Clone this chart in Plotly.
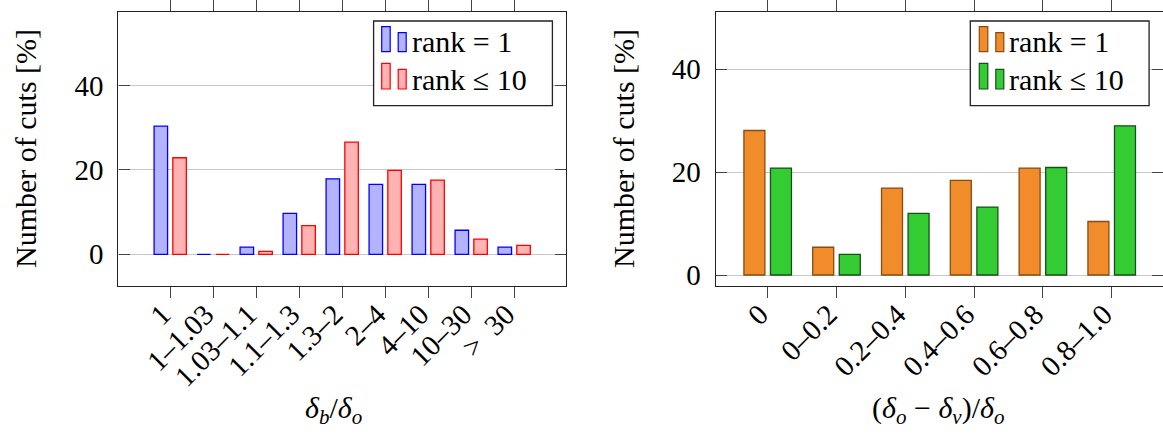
import plotly.graph_objects as go

W, H = 1163, 435

# ---------------- data ----------------
cats_left = ["1", "1–1.03", "1.03–1.1", "1.1–1.3", "1.3–2", "2–4", "4–10", "10–30", ">\u200230"]
rank1_left = [30.4, 0.0, 1.7, 9.7, 17.9, 16.6, 16.6, 5.7, 1.7]
rank10_left = [22.9, 0.0, 0.7, 6.8, 26.6, 19.9, 17.6, 3.6, 2.1]

cats_right = ["0", "0–0.2", "0.2–0.4", "0.4–0.6", "0.6–0.8", "0.8–1.0"]
rank1_right = [28.1, 5.4, 16.9, 18.4, 20.8, 10.4]
rank10_right = [20.8, 4.0, 12.0, 13.2, 20.9, 29.0]

yticks = [0, 20, 40]
legend_labels = ["rank = 1", "rank ≤ 10"]

# ---------------- style ----------------
FONT = "Liberation Serif"
FS = 29
FS_T = 30
BLUE_FILL, BLUE_EDGE = "#b3b3ff", "#0000ff"
RED_FILL, RED_EDGE = "#ffb3b3", "#ff0000"
ORA_FILL, ORA_EDGE = "#f08c2a", "#8a4a12"
GRN_FILL, GRN_EDGE = "#33cc33", "#1a4d1a"


def px(x):
    return x / W


def py(y):
    return 1 - y / H


fig = go.Figure()

fig.add_trace(go.Bar(x=cats_left, y=rank1_left, xaxis="x", yaxis="y",
                     width=0.314, offset=-0.375,
                     marker=dict(color=BLUE_FILL, line=dict(color=BLUE_EDGE, width=1.3)),
                     showlegend=False))
fig.add_trace(go.Bar(x=cats_left, y=rank10_left, xaxis="x", yaxis="y",
                     width=0.314, offset=0.061,
                     marker=dict(color=RED_FILL, line=dict(color=RED_EDGE, width=1.3)),
                     showlegend=False))
fig.add_trace(go.Bar(x=cats_right, y=rank1_right, xaxis="x2", yaxis="y2",
                     width=0.305, offset=-0.346,
                     marker=dict(color=ORA_FILL, line=dict(color=ORA_EDGE, width=1.3)),
                     showlegend=False))
fig.add_trace(go.Bar(x=cats_right, y=rank10_right, xaxis="x2", yaxis="y2",
                     width=0.305, offset=0.04,
                     marker=dict(color=GRN_FILL, line=dict(color=GRN_EDGE, width=1.3)),
                     showlegend=False))

ydom = [py(285.7), py(12.3)]
tickfont = dict(family=FONT, size=FS, color="black")

xcommon = dict(type="category", tickangle=-45, ticks="outside", ticklen=11, tickwidth=1,
               tickcolor="#444", showline=True, linecolor="#222", linewidth=1.3,
               mirror="ticks", showgrid=False, zeroline=False, tickfont=tickfont,
               ticklabelstandoff=-12, ticklabelshift=-8, automargin=False)
ycommon = dict(tickvals=yticks, ticks="inside", ticklen=11, tickwidth=1, tickcolor="#444",
               showline=True, linecolor="#222", linewidth=1.3, mirror="ticks",
               showgrid=True, gridcolor="#c8c8c8", gridwidth=1, zeroline=False,
               tickfont=tickfont, ticklabelstandoff=8, automargin=False)

fig.update_layout(
    width=W, height=H,
    margin=dict(l=0, r=0, t=0, b=0),
    paper_bgcolor="white", plot_bgcolor="white",
    barmode="overlay",
    font=dict(family=FONT, size=FS, color="black"),
    xaxis=dict(domain=[px(118.4), px(566)], range=[-1.205, 9.205], anchor="y", **xcommon),
    yaxis=dict(domain=ydom, range=[-7.45, 57.4], anchor="x", **ycommon),
    xaxis2=dict(domain=[px(715.7), 1.0], range=[-0.756, 5.745], anchor="y2", **xcommon),
    yaxis2=dict(domain=ydom, range=[-2.08, 51.08], anchor="x2", **ycommon),
)

annotations = []
shapes = []

# axis titles
annotations.append(dict(text="Number of cuts [%]", x=px(25), y=py(149), xref="paper", yref="paper",
                        textangle=-90, showarrow=False, xanchor="center", yanchor="middle",
                        font=dict(family=FONT, size=FS_T)))
annotations.append(dict(text="Number of cuts [%]", x=px(623), y=py(149), xref="paper", yref="paper",
                        textangle=-90, showarrow=False, xanchor="center", yanchor="middle",
                        font=dict(family=FONT, size=FS_T)))
annotations.append(dict(text="<i>δ</i><sub><i>b</i></sub>/<i>δ</i><sub><i>o</i></sub>",
                        x=px(334), y=py(410), xref="paper", yref="paper", showarrow=False,
                        xanchor="center", yanchor="middle", font=dict(family=FONT, size=FS_T)))
annotations.append(dict(text="(<i>δ</i><sub><i>o</i></sub> − <i>δ</i><sub><i>v</i></sub>)/<i>δ</i><sub><i>o</i></sub>",
                        x=px(938), y=py(410), xref="paper", yref="paper", showarrow=False,
                        xanchor="center", yanchor="middle", font=dict(family=FONT, size=FS_T)))


def legend(x0, x1, y0, y1, sym_x, colors, text_x):
    shapes.append(dict(type="rect", xref="paper", yref="paper", x0=px(x0), x1=px(x1),
                       y0=py(y1), y1=py(y0), line=dict(color="#222", width=1.3),
                       fillcolor="white", layer="above"))
    rows = [(26.7, 32.7, 51.7), (63.3, 69.3, 89.0)]
    for (ytall, ysmall, ybase), (fill, edge), label in zip(rows, colors, legend_labels):
        shapes.append(dict(type="rect", xref="paper", yref="paper", x0=px(sym_x), x1=px(sym_x + 8.5),
                           y0=py(ybase), y1=py(ytall), line=dict(color=edge, width=1.2),
                           fillcolor=fill, layer="above"))
        shapes.append(dict(type="rect", xref="paper", yref="paper", x0=px(sym_x + 16.5),
                           x1=px(sym_x + 24.5), y0=py(ybase), y1=py(ysmall),
                           line=dict(color=edge, width=1.2), fillcolor=fill, layer="above"))
        annotations.append(dict(text=label, x=px(text_x), y=py(ybase - 10), xref="paper", yref="paper",
                                showarrow=False, xanchor="left", yanchor="middle",
                                font=dict(family=FONT, size=FS_T)))


legend(373.6, 552.4, 21, 105.7, 381.7, [(BLUE_FILL, BLUE_EDGE), (RED_FILL, RED_EDGE)], 410)
legend(970.3, 1149.1, 21, 105.7, 979.3, [(ORA_FILL, ORA_EDGE), (GRN_FILL, GRN_EDGE)], 1007)

fig.update_layout(annotations=annotations, shapes=shapes)
fig.write_html("out.html")
